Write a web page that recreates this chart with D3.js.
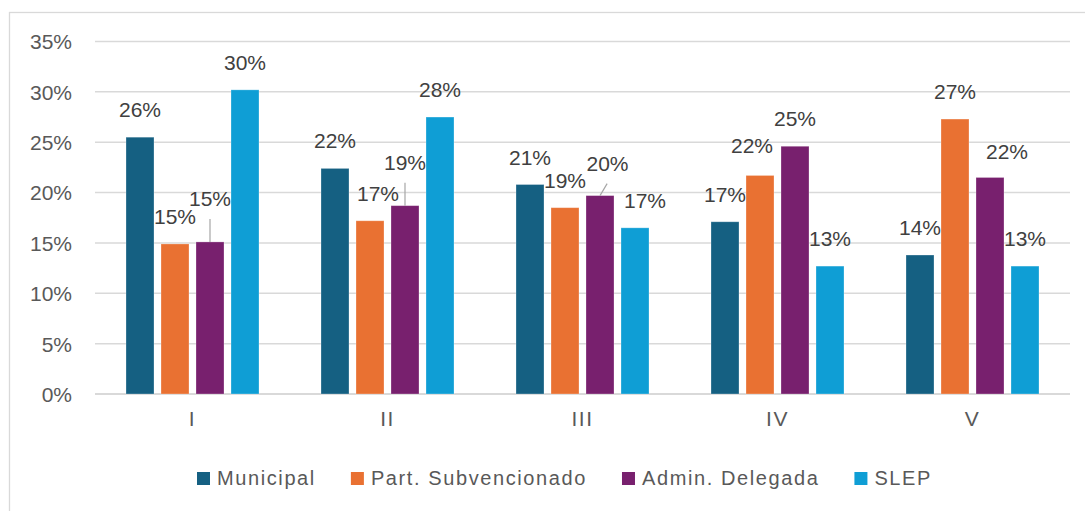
<!DOCTYPE html>
<html><head><meta charset="utf-8">
<script src="https://cdn.jsdelivr.net/npm/d3@7"></script>
<style>body{margin:0;background:#fff;}svg{display:block;}</style>
</head><body>
<svg id="c" width="1085" height="511"></svg>
<script>
const categories = ["I","II","III","IV","V"];
const seriesNames = ["Municipal","Part. Subvencionado","Admin. Delegada","SLEP"];
const municipal = [25.5, 22.4, 20.8, 17.1, 13.8];
const partSubvencionado = [14.9, 17.2, 18.5, 21.7, 27.3];
const adminDelegada = [15.1, 18.7, 19.7, 24.6, 21.5];
const slep = [30.2, 27.5, 16.5, 12.7, 12.7];
const yTicks = [0,5,10,15,20,25,30,35];
const colors = ["#156082","#E97132","#78206E","#0F9ED5"];

const seriesValues = [municipal, partSubvencionado, adminDelegada, slep];
const data = [];
seriesValues.forEach((vals, s) => vals.forEach((v, c) => data.push({s, c, v})));

const svg = d3.select("#c");
svg.append("rect").attr("x",9.5).attr("y",12.5).attr("width",1100).attr("height",520)
  .attr("fill","#fff").attr("stroke","#d9d9d9").attr("stroke-width",1.3);

const x0 = d3.scaleBand().domain(categories).range([95,1070]).padding(0);
const x1 = d3.scaleBand().domain(d3.range(seriesNames.length)).range([31,164]).paddingInner(0.2).paddingOuter(0);
const y = d3.scaleLinear().domain([0,35]).range([394,41.5]);

// gridlines
svg.append("g").selectAll("line").data(yTicks).join("line")
  .attr("x1",95).attr("x2",1070).attr("y1",d=>y(d)).attr("y2",d=>y(d))
  .attr("stroke","#d9d9d9").attr("stroke-width",d=>d===0?2:1.5);

// y axis labels
const yAxis = d3.axisLeft(y).tickValues(yTicks).tickFormat(d=>d+"%").tickSize(0).tickPadding(0);
const ga = svg.append("g").attr("transform","translate(72,0)").call(yAxis);
ga.select(".domain").remove();
ga.selectAll("text").attr("font-family","Liberation Sans, Arial, sans-serif").attr("font-size",21)
  .attr("fill","#595959").attr("dy","0.35em");

// x axis labels
const xAxis = d3.axisBottom(x0).tickSize(0).tickPadding(0);
const gx = svg.append("g").attr("transform","translate(0,411)").call(xAxis);
gx.select(".domain").remove();
gx.selectAll("text").attr("font-family","Liberation Sans, Arial, sans-serif").attr("font-size",21)
  .attr("fill","#595959").attr("dy","0.71em").attr("letter-spacing",1.5);

// bars
svg.append("g").selectAll("rect").data(data).join("rect")
  .attr("x",d=>x0(categories[d.c])+x1(d.s))
  .attr("width",x1.bandwidth())
  .attr("y",d=>y(d.v))
  .attr("height",d=>y(0)-y(d.v))
  .attr("fill",d=>colors[d.s])
  .attr("stroke","#fff").attr("stroke-opacity",0.35).attr("stroke-width",0.8);

// label placement tweaks (dx, dy from default), and leader lines
const tweak = {"2-0":[0,-16,true],"2-1":[0,-16,true],"2-2":[7.5,-5,true],"1-1":[8,0],"3-2":[10,0],"1-3":[-8,-2],"2-4":[17,2]};
const lbl = svg.append("g");
data.forEach(d => {
  const t = tweak[d.s+"-"+d.c] || [0,0,false];
  const cx = x0(categories[d.c]) + x1(d.s) + x1.bandwidth()/2;
  const top = y(d.v);
  const bx = cx + t[0], by = top - 20 + t[1];
  if (t[2]) {
    lbl.append("line").attr("x1",cx + t[0]*0.95).attr("y1",by+13).attr("x2",cx).attr("y2",top)
      .attr("stroke","#a6a6a6").attr("stroke-width",1.2);
  }
  lbl.append("text").attr("x",bx).attr("y",by).attr("text-anchor","middle")
    .attr("font-family","Liberation Sans, Arial, sans-serif").attr("font-size",21)
    .attr("fill","#404040").text(Math.round(d.v)+"%");
});

// legend
const lg = svg.append("g");
let lx = 197;
seriesNames.forEach((n,i) => {
  lg.append("rect").attr("x",lx).attr("y",472).attr("width",13).attr("height",13).attr("fill",colors[i]);
  const t = lg.append("text").attr("x",lx+20).attr("y",485)
    .attr("font-family","Liberation Sans, Arial, sans-serif").attr("font-size",20)
    .attr("letter-spacing",1.6).attr("fill","#595959").text(n);
  lx += 20 + t.node().getComputedTextLength() + 35;
});
</script>
</body></html>
